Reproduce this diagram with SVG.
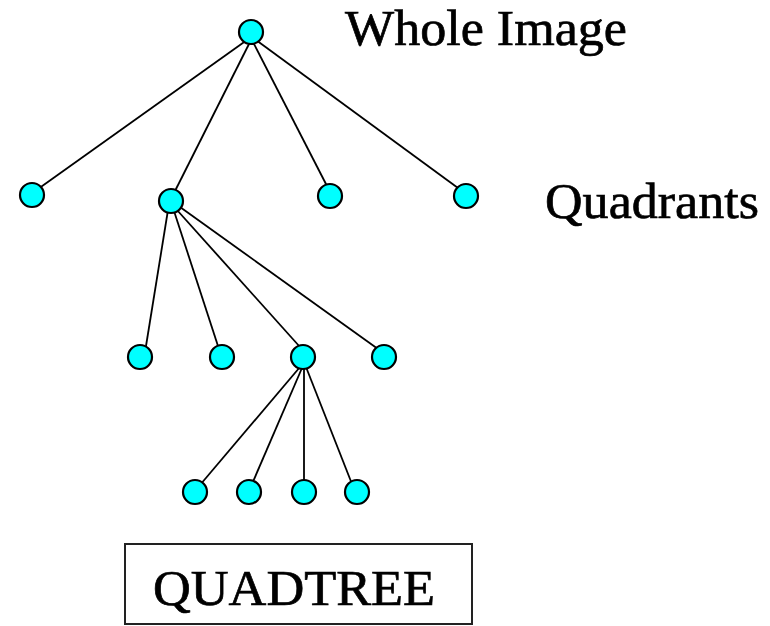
<svg xmlns="http://www.w3.org/2000/svg" width="770" height="626" viewBox="0 0 770 626">
<style>
.n{fill:#00ffff;stroke:#000;stroke-width:2.2}
.e{stroke:#000;stroke-width:1.8;fill:none}
.t{font-family:"Liberation Serif","Times New Roman",serif;font-size:51px;fill:#000;stroke:#000;stroke-width:0.7}
</style>
<rect width="770" height="626" fill="#fff"/>
<g id="connectors">
<line class="e" x1="247" y1="40" x2="38" y2="189"/>
<line class="e" x1="250" y1="42" x2="175" y2="191"/>
<line class="e" x1="253" y1="42" x2="327" y2="186"/>
<line class="e" x1="256" y1="40" x2="458" y2="188"/>
<line class="e" x1="168" y1="210" x2="146" y2="346"/>
<line class="e" x1="174" y1="211" x2="218" y2="346"/>
<line class="e" x1="177" y1="210" x2="300" y2="347"/>
<line class="e" x1="180" y1="207" x2="378" y2="349"/>
<line class="e" x1="300" y1="367" x2="200" y2="485"/>
<line class="e" x1="302" y1="368" x2="252" y2="484"/>
<line class="e" x1="304" y1="368" x2="304" y2="482"/>
<line class="e" x1="306" y1="367" x2="352" y2="484"/>
</g>
<g id="root"><circle class="n" cx="251" cy="32" r="12"/></g>
<g id="q1"><circle class="n" cx="32" cy="195" r="12"/></g>
<g id="q2"><circle class="n" cx="171" cy="201" r="12"/></g>
<g id="q3"><circle class="n" cx="330" cy="196" r="12"/></g>
<g id="q4"><circle class="n" cx="466" cy="196" r="12"/></g>
<g id="q2a"><circle class="n" cx="140" cy="357" r="12"/></g>
<g id="q2b"><circle class="n" cx="222" cy="357" r="12"/></g>
<g id="q2c"><circle class="n" cx="303" cy="357" r="12"/></g>
<g id="q2d"><circle class="n" cx="384" cy="357" r="12"/></g>
<g id="q2c1"><circle class="n" cx="195" cy="492" r="12"/></g>
<g id="q2c2"><circle class="n" cx="249" cy="492" r="12"/></g>
<g id="q2c3"><circle class="n" cx="304" cy="492" r="12"/></g>
<g id="q2c4"><circle class="n" cx="357" cy="492" r="12"/></g>
<g id="label-whole"><text class="t" x="345" y="45" textLength="282" lengthAdjust="spacingAndGlyphs">Whole Image</text></g>
<g id="label-quadrants"><text class="t" x="545" y="218" textLength="214" lengthAdjust="spacingAndGlyphs">Quadrants</text></g>
<g id="title">
<rect x="125" y="544" width="347" height="80" fill="#fff" stroke="#222" stroke-width="2"/>
<text class="t" x="153" y="605" textLength="282" lengthAdjust="spacingAndGlyphs">QUADTREE</text>
</g>
</svg>
